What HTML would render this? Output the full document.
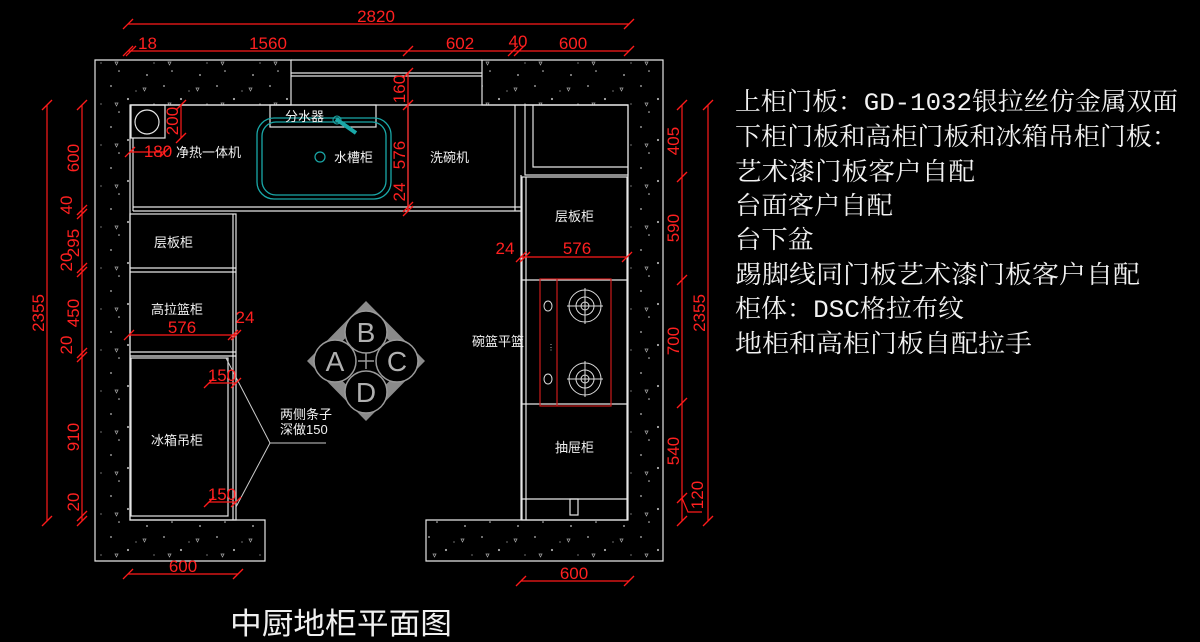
<!DOCTYPE html>
<html><head><meta charset="utf-8"><style>
html,body{margin:0;padding:0;background:#000;}
svg{display:block;}
.w{fill:none;stroke:#e6e6e6;stroke-width:1.2;}
.r{stroke:#ff1a1a;stroke-width:1.2;fill:none;}
.rt{fill:#ff2020;font-family:"Liberation Sans Narrow","Liberation Sans",sans-serif;font-size:17px;}
.lb{fill:#f0f0f0;font-family:"Liberation Sans","Noto Sans CJK SC",sans-serif;font-size:13px;}
.big{fill:#f2f2f2;font-family:"Liberation Mono","Noto Serif CJK SC",monospace;font-size:25px;}
</style></head><body>
<svg width="1200" height="642" viewBox="0 0 1200 642" xmlns="http://www.w3.org/2000/svg">
<defs>
<pattern id="sp" width="53" height="41" patternUnits="userSpaceOnUse">
<rect width="53" height="41" fill="#000"/>
<circle cx="5" cy="4" r="0.9" fill="#bbb"/><circle cx="22" cy="17" r="1.1" fill="#aaa"/>
<circle cx="13" cy="30" r="0.8" fill="#ccc"/><circle cx="41" cy="34" r="1" fill="#999"/>
<path d="M37 6 l3 0 l-1.5 3z" stroke="#aaa" stroke-width="0.7" fill="none"/>
<path d="M9 21 l3 0 l-1.5 3z" stroke="#aaa" stroke-width="0.7" fill="none"/>
<circle cx="30" cy="9" r="0.6" fill="#bbb"/><circle cx="48" cy="22" r="0.6" fill="#bbb"/>
</pattern>
<g id="tk"><line x1="-5" y1="5" x2="5" y2="-5" stroke="#ff1a1a" stroke-width="1.3"/></g>
</defs>

<path d="M95 60 H663 V561 H426 V520 H628 V105 H482 V60 H291 V105 H130 V520 H265 V561 H95 Z" fill="url(#sp)"/>
<path class="w" d="M95 60 H291 V105 H130 V520 H265 V561 H95 Z"/>
<path class="w" d="M482 60 H663 V561 H426 V520 H628 V105 H482 Z"/>
<line class="w" x1="291" y1="60" x2="482" y2="60"/>
<line class="w" x1="291" y1="73" x2="482" y2="73"/>
<line class="w" x1="291" y1="76" x2="482" y2="76"/>

<path class="w" d="M130 105 H628"/>
<rect class="w" x="131" y="105" width="34" height="33"/>
<path class="w" d="M133 138 V211"/>
<circle class="w" cx="147" cy="122" r="12"/>
<line class="w" x1="133" y1="207" x2="521" y2="207"/>
<line class="w" x1="133" y1="211" x2="521" y2="211"/>
<line class="w" x1="408" y1="105" x2="408" y2="211"/>
<line class="w" x1="515" y1="105" x2="515" y2="211"/>
<line class="w" x1="521" y1="175" x2="521" y2="520"/>
<rect class="w" x="270" y="105" width="106" height="22"/>
<rect x="257" y="118" width="134" height="81" rx="17" fill="none" stroke="#1aa8a8" stroke-width="1.3"/>
<rect x="262" y="122" width="124" height="73" rx="14" fill="none" stroke="#1aa8a8" stroke-width="1.3"/>
<circle cx="320" cy="157" r="5" fill="none" stroke="#1aa8a8" stroke-width="1.2"/>
<line x1="336" y1="119" x2="356" y2="133" stroke="#1aa8a8" stroke-width="4"/>
<circle cx="337" cy="120" r="4" fill="none" stroke="#1aa8a8"/>
<rect class="w" x="525" y="105" width="103" height="70"/>
<path class="w" d="M533 105 V167 H628"/>
<rect class="w" x="522" y="177" width="105" height="343"/>
<line class="w" x1="526" y1="177" x2="526" y2="520"/>
<line class="w" x1="522" y1="280" x2="627" y2="280"/>
<line class="w" x1="522" y1="404" x2="627" y2="404"/>
<line class="w" x1="522" y1="499" x2="627" y2="499"/>
<rect class="w" x="570" y="499" width="8" height="16"/>
<rect x="540" y="279" width="71" height="127" fill="none" stroke="#cc1a1a" stroke-width="1.2"/>
<line x1="557" y1="279" x2="557" y2="406" stroke="#cc1a1a" stroke-width="1.2"/>
<g stroke="#ddd" fill="none" stroke-width="1">
<circle cx="585" cy="306" r="16"/><circle cx="585" cy="306" r="9"/><circle cx="585" cy="306" r="4"/>
<path d="M567 306 H603 M585 288 V324"/>
<circle cx="585" cy="379" r="16"/><circle cx="585" cy="379" r="9"/><circle cx="585" cy="379" r="4"/>
<path d="M567 379 H603 M585 361 V397"/>
<ellipse cx="548" cy="306" rx="4" ry="5"/><ellipse cx="548" cy="379" rx="4" ry="5"/>
</g>
<text x="547" y="350" fill="#ccc" font-size="8" font-family="Liberation Sans">⋮</text>
<rect class="w" x="130" y="214" width="106" height="306"/>
<line class="w" x1="233" y1="214" x2="233" y2="520"/>
<line class="w" x1="130" y1="268" x2="236" y2="268"/>
<line class="w" x1="130" y1="272" x2="236" y2="272"/>
<line class="w" x1="130" y1="352" x2="236" y2="352"/>
<line class="w" x1="130" y1="356" x2="236" y2="356"/>
<rect class="w" x="131" y="358" width="97" height="158"/>
<path d="M226 358 L270 443 L236 507 M270 443 H326" stroke="#ccc" fill="none" stroke-width="1"/>

<g transform="translate(366,361)">
<path d="M0 -60 L59 0 L0 60 L-59 0 Z" fill="#8a8a8a"/>
<path d="M0 -44 L43 0 L0 44 L-43 0 Z" fill="#000"/>
<g fill="#000" stroke="#9a9a9a" stroke-width="1.5">
<circle cx="0" cy="-29" r="21"/><circle cx="-31" cy="0" r="21"/><circle cx="31" cy="0" r="21"/><circle cx="0" cy="31" r="21"/>
</g>
<path d="M-8 0 H8 M0 -8 V8" stroke="#9a9a9a" stroke-width="1.5"/>
<g fill="#b0b0b0" font-family="Liberation Sans Narrow,Liberation Sans" font-size="28" text-anchor="middle">
<text x="0" y="-19">B</text><text x="-31" y="10">A</text><text x="31" y="10">C</text><text x="0" y="41">D</text>
</g>
</g>

<g class="lb">
<text x="285" y="121">分水器</text>
<text x="176" y="157">净热一体机</text>
<text x="334" y="162">水槽柜</text>
<text x="430" y="162">洗碗机</text>
<text x="154" y="247">层板柜</text>
<text x="151" y="314">高拉篮柜</text>
<text x="151" y="445">冰箱吊柜</text>
<text x="280" y="419">两侧条子</text>
<text x="280" y="434">深做150</text>
<text x="472" y="346">碗篮平篮</text>
<text x="555" y="221">层板柜</text>
<text x="555" y="452">抽屉柜</text>
</g>

<g class="r">
<line x1="128" y1="24" x2="629" y2="24"/>
<line x1="128" y1="51" x2="629" y2="51"/>
<line x1="47" y1="105" x2="47" y2="521"/>
<line x1="82" y1="105" x2="82" y2="521"/>
<line x1="682" y1="105" x2="682" y2="521"/>
<line x1="708" y1="105" x2="708" y2="521"/>
<line x1="408" y1="73" x2="408" y2="211"/>
<line x1="181" y1="105" x2="181" y2="138"/>
<line x1="130" y1="152" x2="165" y2="152"/>
<line x1="129" y1="335" x2="236" y2="335"/>
<line x1="209" y1="383" x2="236" y2="383"/>
<line x1="209" y1="502" x2="236" y2="502"/>
<line x1="521" y1="257" x2="627" y2="257"/>
<line x1="128" y1="574" x2="238" y2="574"/>
<line x1="521" y1="581" x2="629" y2="581"/>
<path d="M682 498 L688 512 L702 512"/>
</g>
<g>
<use href="#tk" x="128" y="24"/><use href="#tk" x="629" y="24"/>
<use href="#tk" x="128" y="51"/><use href="#tk" x="131" y="51"/><use href="#tk" x="408" y="51"/><use href="#tk" x="513" y="51"/><use href="#tk" x="519" y="51"/><use href="#tk" x="629" y="51"/>
<use href="#tk" x="47" y="105"/><use href="#tk" x="47" y="521"/>
<use href="#tk" x="82" y="105"/><use href="#tk" x="82" y="210"/><use href="#tk" x="82" y="214"/><use href="#tk" x="82" y="268"/><use href="#tk" x="82" y="272"/><use href="#tk" x="82" y="353"/><use href="#tk" x="82" y="357"/><use href="#tk" x="82" y="516"/><use href="#tk" x="82" y="521"/>
<use href="#tk" x="682" y="105"/><use href="#tk" x="682" y="177"/><use href="#tk" x="682" y="280"/><use href="#tk" x="682" y="403"/><use href="#tk" x="682" y="498"/><use href="#tk" x="682" y="521"/>
<use href="#tk" x="708" y="105"/><use href="#tk" x="708" y="521"/>
<use href="#tk" x="408" y="73"/><use href="#tk" x="408" y="105"/><use href="#tk" x="408" y="207"/><use href="#tk" x="408" y="211"/>
<use href="#tk" x="181" y="105"/><use href="#tk" x="181" y="138"/>
<use href="#tk" x="130" y="152"/><use href="#tk" x="165" y="152"/>
<use href="#tk" x="129" y="335"/><use href="#tk" x="233" y="335"/><use href="#tk" x="236" y="335"/>
<use href="#tk" x="209" y="383"/><use href="#tk" x="236" y="383"/>
<use href="#tk" x="209" y="502"/><use href="#tk" x="236" y="502"/>
<use href="#tk" x="521" y="257"/><use href="#tk" x="525" y="257"/><use href="#tk" x="627" y="257"/>
<use href="#tk" x="128" y="574"/><use href="#tk" x="238" y="574"/>
<use href="#tk" x="521" y="581"/><use href="#tk" x="629" y="581"/>
</g>
<g class="rt">
<text x="376" y="22" text-anchor="middle">2820</text>
<text x="138" y="49">18</text>
<text x="268" y="49" text-anchor="middle">1560</text>
<text x="460" y="49" text-anchor="middle">602</text>
<text x="518" y="47" text-anchor="middle">40</text>
<text x="573" y="49" text-anchor="middle">600</text>
<text x="158" y="157" text-anchor="middle">180</text>
<text x="577" y="254" text-anchor="middle">576</text>
<text x="505" y="254" text-anchor="middle">24</text>
<text x="182" y="333" text-anchor="middle">576</text>
<text x="245" y="323" text-anchor="middle">24</text>
<text x="222" y="381" text-anchor="middle">150</text>
<text x="222" y="500" text-anchor="middle">150</text>
<text x="183" y="572" text-anchor="middle">600</text>
<text x="574" y="579" text-anchor="middle">600</text>
<text transform="translate(44,313) rotate(-90)" text-anchor="middle">2355</text>
<text transform="translate(79,158) rotate(-90)" text-anchor="middle">600</text>
<text transform="translate(72,205) rotate(-90)" text-anchor="middle">40</text>
<text transform="translate(79,243) rotate(-90)" text-anchor="middle">295</text>
<text transform="translate(72,262) rotate(-90)" text-anchor="middle">20</text>
<text transform="translate(79,313) rotate(-90)" text-anchor="middle">450</text>
<text transform="translate(72,345) rotate(-90)" text-anchor="middle">20</text>
<text transform="translate(79,437) rotate(-90)" text-anchor="middle">910</text>
<text transform="translate(79,502) rotate(-90)" text-anchor="middle">20</text>
<text transform="translate(679,141) rotate(-90)" text-anchor="middle">405</text>
<text transform="translate(679,228) rotate(-90)" text-anchor="middle">590</text>
<text transform="translate(679,341) rotate(-90)" text-anchor="middle">700</text>
<text transform="translate(679,451) rotate(-90)" text-anchor="middle">540</text>
<text transform="translate(703,495) rotate(-90)" text-anchor="middle">120</text>
<text transform="translate(705,313) rotate(-90)" text-anchor="middle">2355</text>
<text transform="translate(405,89) rotate(-90)" text-anchor="middle">160</text>
<text transform="translate(405,155) rotate(-90)" text-anchor="middle">576</text>
<text transform="translate(405,192) rotate(-90)" text-anchor="middle">24</text>
<text transform="translate(178,121) rotate(-90)" text-anchor="middle">200</text>
</g>

<g class="big">
<text x="735" y="110" textLength="443" lengthAdjust="spacingAndGlyphs">上柜门板：GD-1032银拉丝仿金属双面</text>
<text x="735" y="145" textLength="443" lengthAdjust="spacingAndGlyphs">下柜门板和高柜门板和冰箱吊柜门板：</text>
<text x="735" y="180" textLength="240" lengthAdjust="spacingAndGlyphs">艺术漆门板客户自配</text>
<text x="735" y="214" textLength="158" lengthAdjust="spacingAndGlyphs">台面客户自配</text>
<text x="735" y="248" textLength="79" lengthAdjust="spacingAndGlyphs">台下盆</text>
<text x="735" y="283" textLength="405" lengthAdjust="spacingAndGlyphs">踢脚线同门板艺术漆门板客户自配</text>
<text x="735" y="317" textLength="229" lengthAdjust="spacingAndGlyphs">柜体：DSC格拉布纹</text>
<text x="735" y="352" textLength="297" lengthAdjust="spacingAndGlyphs">地柜和高柜门板自配拉手</text>
</g>
<text x="230" y="634" textLength="222" lengthAdjust="spacingAndGlyphs" fill="#f0f0f0" font-family="Liberation Sans, Noto Sans CJK SC, sans-serif" font-size="30">中厨地柜平面图</text>
</svg>
</body></html>
